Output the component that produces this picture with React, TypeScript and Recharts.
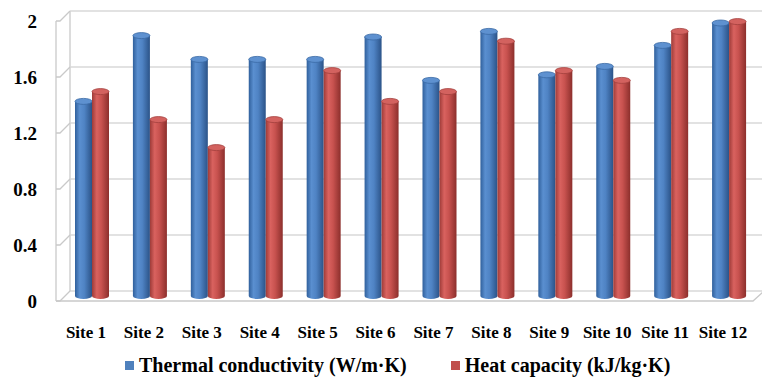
import { BarChart, Bar, XAxis, YAxis, CartesianGrid, Legend } from "recharts";

const sites = [
  "Site 1", "Site 2", "Site 3", "Site 4", "Site 5", "Site 6",
  "Site 7", "Site 8", "Site 9", "Site 10", "Site 11", "Site 12",
];
const thermalConductivity = [1.39, 1.86, 1.69, 1.69, 1.69, 1.85, 1.54, 1.89, 1.58, 1.64, 1.79, 1.95];
const heatCapacity = [1.46, 1.26, 1.06, 1.26, 1.61, 1.39, 1.46, 1.82, 1.61, 1.54, 1.89, 1.96];
const yTicks = [0, 0.4, 0.8, 1.2, 1.6, 2];
const seriesOrder = ["tc", "hc"];

const data = sites.map((site, i) => ({
  site,
  tc: thermalConductivity[i],
  hc: heatCapacity[i],
}));

const FONT = "'Liberation Serif', 'Times New Roman', serif";
const FRAME = "#c9c9c9";
const GRID = "#d9d9d9";

const palettes: Record<string, { stops: string[]; top: string; edge: string }> = {
  blue: {
    stops: ["#30609c", "#5a8fd0", "#4f83c4", "#2b5388"],
    top: "#5e91d0",
    edge: "#3a69a4",
  },
  red: {
    stops: ["#9e3b38", "#d9625f", "#c8524f", "#8c2f2c"],
    top: "#d3625f",
    edge: "#a3403d",
  },
};

const makeCylinder = (tone: "blue" | "red") => (props: any) => {
  const { x, y, width, height } = props;
  if (!height || height <= 0) return null;
  const p = palettes[tone];
  const rx = width / 2;
  const ry = 3;
  const id = `cyl-${tone}`;
  return (
    <g>
      <defs>
        <linearGradient id={id} x1="0" y1="0" x2="1" y2="0">
          <stop offset="0%" stopColor={p.stops[0]} />
          <stop offset="28%" stopColor={p.stops[1]} />
          <stop offset="55%" stopColor={p.stops[2]} />
          <stop offset="100%" stopColor={p.stops[3]} />
        </linearGradient>
      </defs>
      <path
        d={`M${x},${y} L${x},${y + height} A${rx},${ry} 0 0 0 ${x + width},${y + height} L${x + width},${y} Z`}
        fill={`url(#${id})`}
      />
      <ellipse cx={x + rx} cy={y} rx={rx} ry={ry} fill={p.top} stroke={p.edge} strokeWidth={0.8} />
    </g>
  );
};

// back wall + left wall of the 3D frame, drawn off the grid lines
const gridLine = (props: any) => {
  const { x1, x2, y1, index, y, height } = props;
  const front = x1 - 7;
  const back = x1 + 7;
  const isFloor = Math.abs(y1 - (y + height)) < 1;
  return (
    <g key={`g-${index}`}>
      <line x1={back} y1={y1 - 5} x2={x2 + 6} y2={y1 - 5} stroke={GRID} strokeWidth={1.5} />
      <polyline
        points={`${front},${y1 + 5} ${front + 4},${y1 + 5} ${back},${y1 - 5}`}
        fill="none"
        stroke={FRAME}
        strokeWidth={1.3}
      />
      {index === 0 && (
        <>
          <line x1={front} y1={y + 5} x2={front} y2={y + height + 5} stroke={FRAME} strokeWidth={1.3} />
          <line x1={back} y1={y - 5} x2={back} y2={y + height - 5} stroke={FRAME} strokeWidth={1.3} />
        </>
      )}
      {isFloor && (
        <polyline
          points={`${front},${y1 + 5} ${x2 - 5},${y1 + 5} ${x2 + 5},${y1 - 4}`}
          fill="none"
          stroke={FRAME}
          strokeWidth={1.3}
        />
      )}
    </g>
  );
};

const YTick = (props: any) => {
  const { x, y, payload } = props;
  return (
    <text x={x} y={y + 5.5} dy="0.35em" textAnchor="end" fontFamily={FONT} fontWeight="bold" fontSize={19} fill="#000">
      {payload.value}
    </text>
  );
};

const XTick = (props: any) => {
  const { x, y, payload } = props;
  return (
    <text x={x - 6} y={y + 42} textAnchor="middle" fontFamily={FONT} fontWeight="bold" fontSize={17} fill="#000">
      {payload.value}
    </text>
  );
};

const LegendContent = (props: any) => {
  const { payload = [] } = props;
  const items = seriesOrder
    .map((key) => payload.find((p: any) => p.dataKey === key))
    .filter(Boolean);
  return (
    <div
      style={{
        display: "flex",
        alignItems: "center",
        paddingLeft: 125,
        fontFamily: FONT,
        fontWeight: "bold",
        fontSize: 20,
        lineHeight: "22px",
        height: 22,
        color: "#000",
      }}
    >
      {items.map((entry: any, i: number) => (
        <div key={i} style={{ display: "flex", alignItems: "center", marginLeft: i === 0 ? 0 : 44 }}>
          <span style={{ width: 9, height: 9, background: entry.color, marginRight: 5, display: "inline-block" }} />
          <span>{entry.value}</span>
        </div>
      ))}
    </div>
  );
};

const App = () => {
  return (
    <div style={{ position: "absolute", left: 0, top: 0, background: "#fff" }}>
      <BarChart
        width={762}
        height={378}
        data={data}
        margin={{ top: 16, right: 4, left: 0, bottom: 0 }}
        barGap={0}
        barSize={17}
      >
        <CartesianGrid vertical={false} horizontal={gridLine} />
        <XAxis
          dataKey="site"
          axisLine={false}
          tickLine={false}
          tickSize={0}
          tickMargin={0}
          height={60}
          interval={0}
          tick={<XTick />}
        />
        <YAxis
          domain={[0, 2]}
          ticks={yTicks}
          axisLine={false}
          tickLine={false}
          tickSize={0}
          tickMargin={26}
          width={63}
          tick={<YTick />}
        />
        <Legend
          content={<LegendContent />}
          verticalAlign="bottom"
          height={22}
          wrapperStyle={{ position: "absolute", left: 0, top: 354, width: 762 }}
        />
        <Bar
          dataKey="tc"
          name="Thermal conductivity (W/m·K)"
          fill="#4f81bd"
          shape={makeCylinder("blue")}
          isAnimationActive={false}
        />
        <Bar
          dataKey="hc"
          name="Heat capacity (kJ/kg·K)"
          fill="#c0504d"
          shape={makeCylinder("red")}
          isAnimationActive={false}
        />
      </BarChart>
    </div>
  );
};

export default App;
